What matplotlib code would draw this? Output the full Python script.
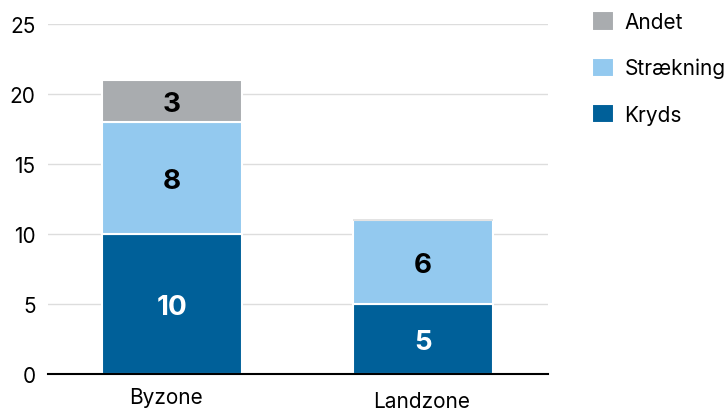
import matplotlib
matplotlib.use("Agg")
import matplotlib.pyplot as plt
import matplotlib.transforms as mtransforms
import numpy as np

plt.rcParams['font.family'] = ['Inter', 'DejaVu Sans']

categories = ["Byzone", "Landzone"]
kryds = [10, 5]
straekning = [8, 6]
andet = [3, 0]
series_names = ["Kryds", "Strækning", "Andet"]
colors = ["#006099", "#93c9ef", "#a9acaf"]
text_colors = ["white", "black", "black"]

fig = plt.figure(figsize=(7.28, 4.14), dpi=100)
ax = fig.add_axes([0.066, 0.094, 0.687, 0.846])

x = np.arange(len(categories))
bottom = np.zeros(len(categories))
handles = []
for vals, name, col, tc in zip([kryds, straekning, andet], series_names, colors, text_colors):
    vals = np.array(vals, dtype=float)
    bars = ax.bar(x, vals, bottom=bottom, width=0.558, color=col,
                  edgecolor="white", linewidth=1.5, label=name, zorder=3)
    handles.append(bars)
    for xi, v, b, rect in zip(x, vals, bottom, bars):
        if v > 0:
            ax.annotate(f"{int(v)}", (xi, b + v / 2), xytext=(0, -2),
                        textcoords="offset points", ha="center", va="center",
                        fontsize=20, fontweight="bold", color=tc, zorder=4)
        else:
            # tom stak: kun en tynd kant
            rect.set_edgecolor("#dedede")
            rect.set_linewidth(1.2)
    bottom += vals

ax.set_xlim(-0.494, 1.498)
ax.set_ylim(0, 25)
ax.set_yticks([0, 5, 10, 15, 20, 25])
ax.yaxis.grid(True, color="#dddddd", linewidth=1, zorder=0)
ax.set_axisbelow(True)
for s in ["top", "right", "left"]:
    ax.spines[s].set_visible(False)
ax.spines["bottom"].set_color("black")
ax.spines["bottom"].set_linewidth(1.5)
ax.spines["bottom"].set_zorder(5)
ax.tick_params(axis="both", length=0, labelsize=15, colors="black")
ax.tick_params(axis="y", pad=9)
ax.tick_params(axis="x", pad=9)
ax.set_xticks(x)
ax.set_xticklabels(categories)
lbls = ax.get_xticklabels()
lbls[0].set_transform(lbls[0].get_transform() + mtransforms.ScaledTranslation(-6 / 100, 0, fig.dpi_scale_trans))
lbls[1].set_transform(lbls[1].get_transform() + mtransforms.ScaledTranslation(-2 / 100, -4 / 100, fig.dpi_scale_trans))

leg = fig.legend(handles[::-1], series_names[::-1], loc="upper left",
                 bbox_to_anchor=(0.802, 0.99), frameon=False, fontsize=15,
                 handlelength=1.05, handleheight=1.05, handletextpad=0.5,
                 labelspacing=1.22, borderaxespad=0)

fig.savefig("out.png", dpi=100)
